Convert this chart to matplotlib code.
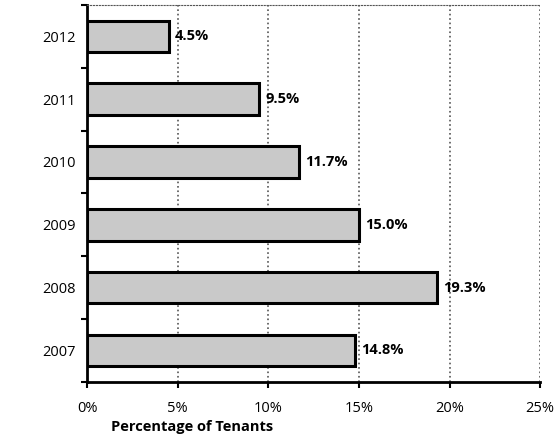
import matplotlib.pyplot as plt
import numpy as np

years = ['2007', '2008', '2009', '2010', '2011', '2012']
pct = [14.8, 19.3, 15.0, 11.7, 9.5, 4.5]
x_ticks = [0, 5, 10, 15, 20, 25]
x_labels = ['0%', '5%', '10%', '15%', '20%', '25%']

plt.rcParams['font.family'] = ['Open Sans', 'DejaVu Sans']

fig = plt.figure(figsize=(5.58, 4.4), dpi=100)
ax = fig.add_axes([0.156, 0.132, 0.812, 0.857])

pos = np.arange(len(years))
ax.barh(pos, pct, height=0.5, color='#c9c9c9', edgecolor='black', linewidth=2.2, zorder=3)

for p, v in zip(pos, pct):
    ax.text(v + 0.35, p, f'{v:.1f}%', va='center', ha='left', fontsize=10.5,
            fontweight='bold', zorder=4)

ax.set_xlim(0, 25)
ax.set_ylim(-0.5, 5.5)
ax.set_xticks(x_ticks)
ax.set_xticklabels(x_labels, fontsize=10.5)
ax.set_yticks(pos)
ax.set_yticklabels(years, fontsize=10.5)
ax.set_yticks(np.arange(-0.5, 5.6, 1), minor=True)
ax.tick_params(axis='y', which='major', length=0, pad=8)
ax.tick_params(axis='y', which='minor', length=4, width=1.5, direction='out')
ax.tick_params(axis='x', length=4, width=1.5, direction='out', pad=10)

ax.xaxis.grid(True, linestyle=':', color='#555555', linewidth=1.2, zorder=0)
ax.set_axisbelow(True)

ax.spines['right'].set_visible(False)
ax.spines['top'].set_linestyle(':')
ax.spines['top'].set_color('#555555')
ax.spines['left'].set_linewidth(2)
ax.spines['bottom'].set_linewidth(2)

ax.set_xlabel('Percentage of Tenants', fontsize=10.5, fontweight='bold')
ax.xaxis.set_label_coords(0.232, -0.1)

plt.savefig('out.png', dpi=100)
